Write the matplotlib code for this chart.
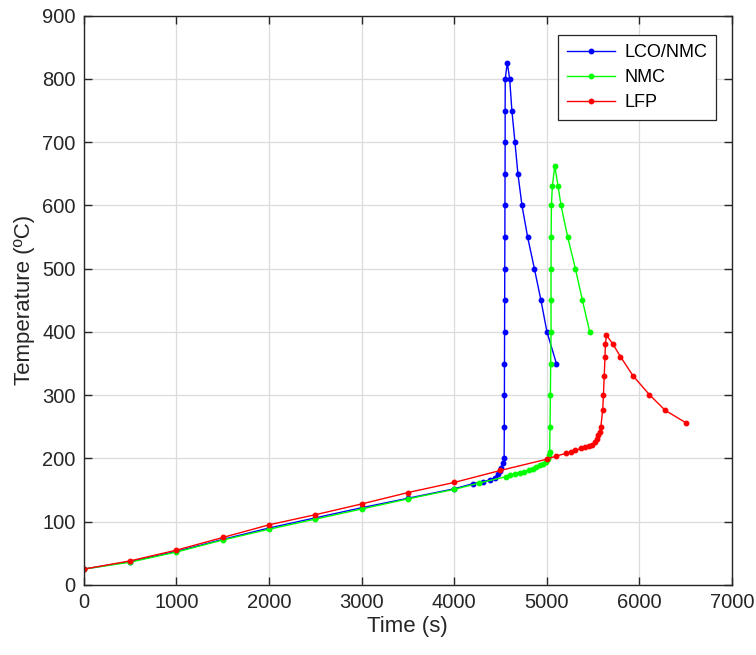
import matplotlib
matplotlib.use("Agg")
import matplotlib.pyplot as plt

plt.rcParams['font.family'] = ['Liberation Sans', 'DejaVu Sans']

# LCO/NMC series
blue_t = [0, 500, 1000, 1500, 2000, 2500, 3000, 3500, 4000, 4202, 4311, 4383, 4437,
          4473, 4491, 4509, 4527, 4540, 4542, 4543, 4544, 4545, 4546, 4547, 4548, 4549,
          4550, 4551, 4551, 4552, 4574, 4600, 4624, 4657, 4689, 4733, 4794, 4867, 4938, 5003, 5105]
blue_T = [25, 37, 53, 72, 90, 106, 122, 137, 152, 160, 163, 166, 169,
          176, 180, 185, 192, 200, 250, 300, 350, 400, 450, 500, 550, 600,
          650, 700, 750, 800, 826, 800, 750, 700, 650, 600, 550, 500, 450, 400, 350]

# NMC series
green_t = [0, 500, 1000, 1500, 2000, 2500, 3000, 3500, 4000, 4268, 4556, 4607, 4654,
           4708, 4755, 4809, 4852, 4888, 4924, 4960, 4989, 5014, 5025, 5032, 5036, 5040,
           5043, 5047, 5047, 5047, 5048, 5051, 5061, 5087, 5123, 5155, 5227, 5310, 5386, 5465]
green_T = [25, 36, 52, 71, 88, 104, 120, 136, 151, 161, 171, 173.5, 175.7,
           177, 179, 181.5, 183.6, 186, 189, 191.5, 195, 199.5, 206, 210, 250, 300,
           350, 400, 450, 500, 550, 600, 630, 663, 630, 600, 550, 500, 450, 400]

# LFP series
red_t = [0, 500, 1000, 1500, 2000, 2500, 3000, 3500, 4000, 4500, 5007, 5105, 5213,
         5260, 5310, 5375, 5418, 5458, 5490, 5519, 5541, 5556, 5571, 5584, 5605, 5613,
         5622, 5630, 5634, 5646, 5714, 5797, 5931, 6108, 6281, 6508]
red_T = [25, 38, 55, 75, 95, 111, 128, 146, 162, 181, 199, 204, 208,
         210, 212.7, 216, 217.5, 219.5, 222, 226, 231, 236.5, 242, 249, 276, 301,
         331, 361, 381, 395, 381, 361, 331, 301, 276, 256]

labels = ['LCO/NMC', 'NMC', 'LFP']
colors = ['#0000ff', '#00ff00', '#ff0000']

fig = plt.figure(figsize=(7.56, 6.55), dpi=100)
ax = fig.add_axes([0.111, 0.107, 0.857, 0.869])

for t, T, lab, c in zip([blue_t, green_t, red_t], [blue_T, green_T, red_T], labels, colors):
    ax.plot(t, T, '-', color=c, marker='o', markersize=3.2, linewidth=1.0, label=lab)

ax.set_xlim(0, 7000)
ax.set_ylim(0, 900)
ax.set_xticks(range(0, 7001, 1000))
ax.set_yticks(range(0, 901, 100))
ax.grid(True, color='#dcdcdc', linewidth=0.9)
ax.set_axisbelow(True)
ax.tick_params(direction='in', length=6, width=1.0, labelsize=14.5, colors='#262626',
               top=True, right=True, pad=6)
for s in ax.spines.values():
    s.set_color('#262626')
    s.set_linewidth(1.0)

ax.set_xlabel('Time (s)', fontsize=16, color='#262626', labelpad=3)
ax.set_ylabel('Temperature (ºC)', fontsize=16, color='#262626', labelpad=5)

leg = ax.legend(loc='upper right', bbox_to_anchor=(0.99, 0.982), fontsize=13,
                fancybox=False, framealpha=1, edgecolor='#262626', handlelength=2.7,
                borderpad=0.5, labelspacing=0.45, handletextpad=0.5)
leg.get_frame().set_linewidth(0.9)

fig.savefig('out.png', dpi=100)
